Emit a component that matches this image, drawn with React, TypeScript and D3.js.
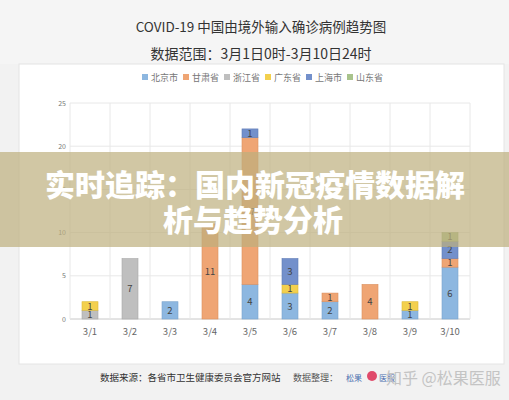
import React, { useEffect } from 'react';
import * as d3 from 'd3';

// 日期和各省市每日输入病例
const dates = ['3/1', '3/2', '3/3', '3/4', '3/5', '3/6', '3/7', '3/8', '3/9', '3/10'];
const beijing = [0, 0, 2, 0, 4, 3, 2, 0, 1, 6];
const gansu = [0, 0, 0, 11, 17, 0, 1, 4, 0, 1];
const zhejiang = [1, 7, 0, 0, 0, 0, 0, 0, 0, 0];
const guangdong = [1, 0, 0, 0, 0, 1, 0, 0, 1, 0];
const shanghai = [0, 0, 0, 0, 1, 3, 0, 0, 0, 2];
const shandong = [0, 0, 0, 0, 0, 0, 0, 0, 0, 1];
const seriesNames = ['北京市', '甘肃省', '浙江省', '广东省', '上海市', '山东省'];
const yTicks = [0, 5, 10, 15, 20, 25];

const colors = ['#8db7e0', '#efa574', '#bfbfbf', '#f3d04e', '#7390cb', '#a8c38c'];
const strokes = ['#7aa3cc', '#d98f5e', '#a9a9a9', '#dcb93a', '#5f7cb6', '#92ad77'];

const FONT = '"Noto Sans CJK SC", "Noto Sans", sans-serif';

const App = () => {
  useEffect(() => {
    document.body.style.margin = '0';
  }, []);

  const width = 509;
  const height = 400;

  const table = dates.map((d, i) => ({
    date: d,
    北京市: beijing[i],
    甘肃省: gansu[i],
    浙江省: zhejiang[i],
    广东省: guangdong[i],
    上海市: shanghai[i],
    山东省: shandong[i],
  }));

  const stacked = d3.stack<any>().keys(seriesNames)(table);

  // scales
  const x = d3.scaleBand().domain(dates).range([70, 470]).paddingInner(0).paddingOuter(0);
  const y = d3.scaleLinear().domain([0, 25]).range([319, 103]);
  const barW = 16;

  const legendX = d3.scaleBand().domain(seriesNames).range([142, 388]);

  return (
    <svg width={width} height={height} style={{ display: 'block', fontFamily: FONT }}>
      <rect x={0} y={0} width={width} height={height} fill="#f2f2f2" />
      <rect x={0} y={0} width={width} height={64} fill="#f5f5f5" />
      <text x={261} y={32} textAnchor="middle" fontSize={13.5} fill="#333">
        COVID-19 中国由境外输入确诊病例趋势图
      </text>
      <text x={261} y={59} textAnchor="middle" fontSize={14} fill="#333">
        数据范围：3月1日0时-3月10日24时
      </text>

      {/* white panel */}
      <rect x={19} y={64} width={485} height={300} fill="#fff" stroke="#e4e4e4" />

      {/* legend */}
      {seriesNames.map((s, i) => (
        <g key={s} transform={`translate(${legendX(s)},77)`}>
          <rect x={0} y={-3} width={6} height={6} fill={colors[i]} />
          <text x={9} y={3.5} fontSize={9} fill="#777">
            {s}
          </text>
        </g>
      ))}

      {/* grid */}
      {yTicks.map((t) => (
        <g key={t}>
          <line x1={70} x2={470} y1={y(t)} y2={y(t)} stroke={t === 0 ? '#c8c8c8' : '#e8e8e8'} />
          <text x={66} y={y(t) + 2.5} textAnchor="end" fontSize={7} fill="#777">
            {t}
          </text>
        </g>
      ))}
      {dates.concat(['end']).map((d, i) => {
        const xx = 70 + i * x.bandwidth();
        return <line key={d} x1={xx} x2={xx} y1={y(25)} y2={y(0)} stroke="#e8e8e8" />;
      })}

      {/* bars */}
      {stacked.map((layer, si) =>
        layer.map((seg, di) => {
          const v = seg[1] - seg[0];
          if (!v) return null;
          const cx = (x(dates[di]) as number) + x.bandwidth() / 2;
          const y0 = y(seg[0]);
          const y1 = y(seg[1]);
          return (
            <g key={`${si}-${di}`}>
              <rect
                x={cx - barW / 2}
                y={y1}
                width={barW}
                height={y0 - y1}
                fill={colors[si]}
                stroke={strokes[si]}
                strokeWidth={0.6}
              />
              <text x={cx} y={(y0 + y1) / 2 + 3.5} textAnchor="middle" fontSize={9.5} fill="#444">
                {v}
              </text>
            </g>
          );
        })
      )}

      {/* x labels */}
      {dates.map((d) => (
        <text
          key={d}
          x={(x(d) as number) + x.bandwidth() / 2}
          y={335}
          textAnchor="middle"
          fontSize={9.5}
          fill="#666"
        >
          {d}
        </text>
      ))}

      {/* footer */}
      <text x={100} y={381} fontSize={9.5} fill="#333">
        数据来源：各省市卫生健康委员会官方网站
      </text>
      <text x={293} y={381} fontSize={9} fill="#555">
        数据整理：
      </text>
      <text x={346} y={381} fontSize={8} fill="#4a6fb0">
        松果
      </text>
      <circle cx={372} cy={376} r={5} fill="#e04a6a" />
      <text x={379} y={381} fontSize={8} fill="#4a6fb0">
        医服
      </text>
      <text x={386} y={384} fontSize={16} fill="#c4c4c4">
        知乎 @松果医服
      </text>

      {/* overlay banner */}
      <rect x={0} y={152} width={width} height={95} fill="rgb(190,175,125)" opacity={0.7} />
      <text x={255} y={196} textAnchor="middle" fontSize={30} fontWeight={900} fill="#fff">
        实时追踪：国内新冠疫情数据解
      </text>
      <text x={253} y={231} textAnchor="middle" fontSize={30} fontWeight={900} fill="#fff">
        析与趋势分析
      </text>
    </svg>
  );
};

export default App;
